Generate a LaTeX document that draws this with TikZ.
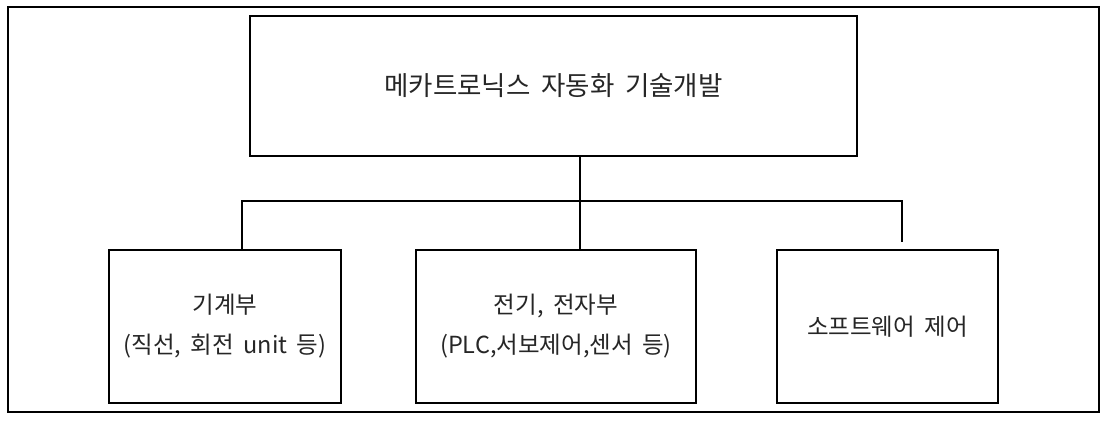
\documentclass[tikz,border=0pt]{standalone}
\usepackage{fontspec}
\setmainfont[WordSpace=1.8]{Noto Sans CJK KR}
\begin{document}
\begin{tikzpicture}[x=1pt,y=-1pt,
  box/.style={draw=black, line width=1.3pt, inner sep=0pt, align=center, text=black!85},
  conn/.style={draw=black, line width=1.2pt}]
\useasboundingbox (0,0) rectangle (1105,433);
\node[draw=black, line width=1.5pt, minimum width=1091pt, minimum height=405pt, inner sep=0pt] (frame) at (553.5,209.5) {};
\node[box, minimum width=607pt, minimum height=140pt, font=\fontsize{26.5}{30}\selectfont] (top) at (553.5,86) {메카트로닉스 자동화 기술개발};
\node[box, minimum width=232pt, minimum height=153pt, font=\fontsize{23.5}{40}\selectfont] (b1) at (225,326.5) {기계부\\(직선, 회전 unit 등)};
\node[box, minimum width=280pt, minimum height=153pt, font=\fontsize{23.5}{40}\selectfont] (b2) at (556,326.5) {전기, 전자부\\(PLC,서보제어,센서 등)};
\node[box, minimum width=221pt, minimum height=153pt, font=\fontsize{23.5}{28}\selectfont] (b3) at (887.5,326.5) {소프트웨어 제어};
\coordinate (j) at (580,201);
\coordinate (hl) at (242,201);
\coordinate (hr) at (902,201);
\coordinate (rend) at (902,242);
\draw[conn] (top.south -| j) -- (b2.north -| j);
\draw[conn] (b1.north -| hl) -- (hl) -- (hr) -- (rend);
\end{tikzpicture}
\end{document}
